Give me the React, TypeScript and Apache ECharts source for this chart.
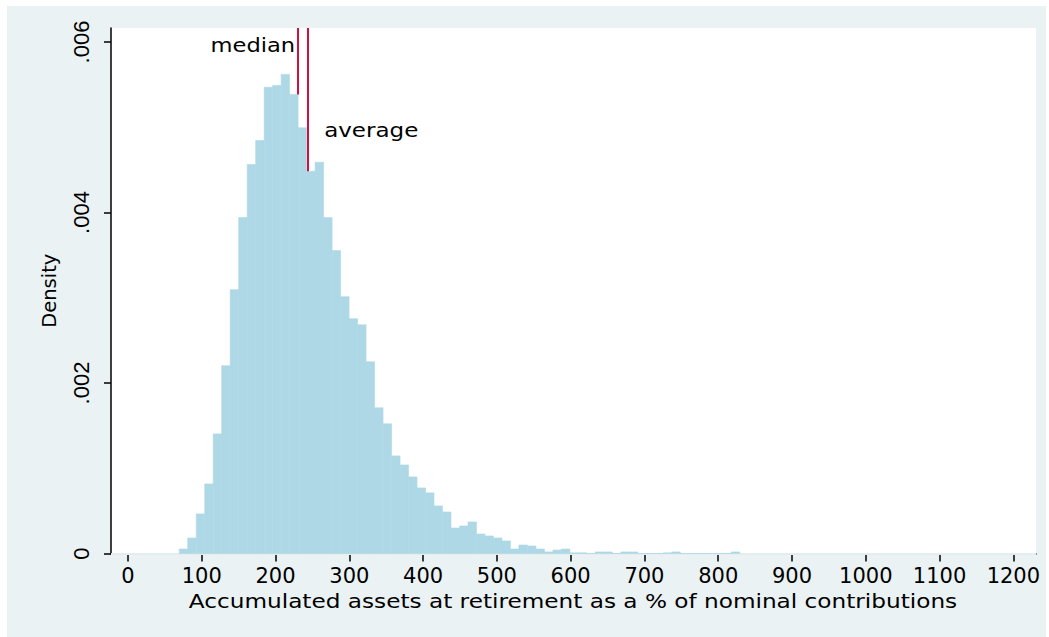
import React, { useEffect, useRef } from 'react';
import * as echarts from 'echarts';

// Histogram bins: start of the first bin and the bin width (in % units)
const BIN_START = 69.5;
const BIN_WIDTH = 11.51;
// Density of each bin
const DENSITY = [
  0.000053, 0.000182, 0.000464, 0.000816, 0.001403, 0.002202, 0.003095, 0.00394,
  0.004563, 0.004844, 0.00547, 0.00549, 0.00562, 0.005385, 0.004993, 0.004484,
  0.00459, 0.00394, 0.003553, 0.003012, 0.002754, 0.002683, 0.002249, 0.001709,
  0.001521, 0.001145, 0.001039, 0.000898, 0.000769, 0.000711, 0.000558, 0.000487,
  0.000299, 0.000323, 0.00037, 0.000229, 0.000206, 0.000182, 0.000147, 0.000053,
  0.0001, 0.000088, 0.000053, 0.000018, 0.000041, 0.000053, 0.000008, 0.000008,
  0, 0.000018, 0.000018, 0, 0.000018, 0.000018, 0, 0,
  0, 0.000008, 0.000018, 0, 0, 0, 0, 0,
  0, 0.000018,
];
const X_TICKS = [0, 100, 200, 300, 400, 500, 600, 700, 800, 900, 1000, 1100, 1200];
const Y_TICKS = [0, 0.002, 0.004, 0.006];
const Y_GRID = [0.002, 0.004, 0.006];
const MEDIAN = 230.7;
const AVERAGE = 244.2;
const MEDIAN_BASE = 0.005385;
const AVERAGE_BASE = 0.004484;
const MEDIAN_LABEL_Y = 0.00597;
const AVERAGE_LABEL_Y = 0.00497;
const X_MIN = -23;
const X_MAX = 1230.7;
const Y_MAX = 0.006164;
const X_TITLE = 'Accumulated assets at retirement as a % of nominal contributions';
const Y_TITLE = 'Density';

export default function App() {
  const ref = useRef<HTMLDivElement>(null);
  useEffect(() => {
    document.body.style.margin = '0';
    const chart = echarts.init(ref.current!, undefined, { renderer: 'svg', width: 1049, height: 637 });
    const bins = DENSITY.map((d, i) => [BIN_START + i * BIN_WIDTH, d]);
    chart.setOption({
      animation: false,
      grid: { left: 111, top: 28, width: 925, height: 525.5, show: true, backgroundColor: '#ffffff', borderWidth: 0 },
      xAxis: {
        type: 'value', min: X_MIN, max: X_MAX,
        axisLine: { show: true, onZero: false, lineStyle: { color: '#000', width: 1.5 } },
        axisTick: { show: true, customValues: X_TICKS, length: 8, lineStyle: { color: '#000', width: 1.5 } },
        axisLabel: {
          customValues: X_TICKS, margin: 12, fontFamily: 'DejaVu Sans', fontSize: 21, color: '#000',
          formatter: (v: number) => String(v),
        },
        splitLine: { show: false },
      },
      yAxis: {
        type: 'value', min: 0, max: Y_MAX,
        name: Y_TITLE, nameLocation: 'middle', nameRotate: 90, nameGap: 52,
        nameTextStyle: { fontFamily: 'DejaVu Sans', fontSize: 19.5, color: '#000' },
        axisLine: { show: true, onZero: false, lineStyle: { color: '#000', width: 1.5 } },
        axisTick: { show: true, customValues: Y_TICKS, length: 7, lineStyle: { color: '#000', width: 1.5 } },
        axisLabel: {
          customValues: Y_TICKS, rotate: 90, margin: 19, fontFamily: 'Liberation Sans', fontSize: 22, color: '#000',
          formatter: (v: number) => (v === 0 ? '0' : String(v).replace(/^0/, '')),
        },
        splitLine: { show: false },
      },
      series: [
        {
          type: 'line', data: [], z: 1, silent: true,
          markLine: {
            silent: true, z: 1, symbol: ['none', 'none'], label: { show: false },
            lineStyle: { color: '#E5EDEF', width: 2, type: 'solid' },
            data: Y_GRID.map((v) => ({ yAxis: v })),
          },
        },
        {
          type: 'custom', z: 2, silent: true,
          encode: { x: 0, y: 1 },
          data: bins,
          renderItem: (params: any, api: any) => {
            const x0 = api.value(0);
            const h = api.value(1);
            const p0 = api.coord([x0, 0]);
            const p1 = api.coord([x0 + BIN_WIDTH, h]);
            return {
              type: 'rect',
              shape: { x: p0[0], y: p1[1], width: p1[0] - p0[0], height: p0[1] - p1[1] },
              style: { fill: '#AED8E5', stroke: '#AED8E5', lineWidth: 0.6 },
            };
          },
          markLine: {
            silent: true, z: 4, symbol: ['none', 'none'], label: { show: false },
            lineStyle: { color: '#CF1040', width: 2, type: 'solid' },
            data: [
              [{ coord: [MEDIAN, MEDIAN_BASE] }, { coord: [MEDIAN, Y_MAX] }],
              [{ coord: [AVERAGE, AVERAGE_BASE] }, { coord: [AVERAGE, Y_MAX] }],
            ],
          },
        },
      ],
    });
    const pm = chart.convertToPixel({ gridIndex: 0 }, [MEDIAN, MEDIAN_LABEL_Y]) as number[];
    const pa = chart.convertToPixel({ gridIndex: 0 }, [AVERAGE, AVERAGE_LABEL_Y]) as number[];
    chart.setOption({
      graphic: [
        {
          type: 'text', x: pm[0] - 3, y: pm[1], scaleX: 1.13, z: 10,
          style: { text: 'median', fontFamily: 'DejaVu Sans', fontSize: 20, fill: '#000', align: 'right', verticalAlign: 'middle' },
        },
        {
          type: 'text', x: pa[0] + 16, y: pa[1], scaleX: 1.15, z: 10,
          style: { text: 'average', fontFamily: 'DejaVu Sans', fontSize: 20, fill: '#000', align: 'left', verticalAlign: 'middle' },
        },
        {
          type: 'text', x: 573, y: 601, scaleX: 1.16, z: 10,
          style: { text: X_TITLE, fontFamily: 'DejaVu Sans', fontSize: 20, fill: '#000', align: 'center', verticalAlign: 'middle' },
        },
      ],
    });
    return () => chart.dispose();
  }, []);
  return (
    <div style={{ position: 'relative', width: 1049, height: 637, background: '#ffffff' }}>
      <div style={{ position: 'absolute', left: 7, top: 6, width: 1039, height: 631, background: '#EAF2F3' }} />
      <div ref={ref} style={{ position: 'absolute', left: 0, top: 0, width: 1049, height: 637 }} />
    </div>
  );
}
